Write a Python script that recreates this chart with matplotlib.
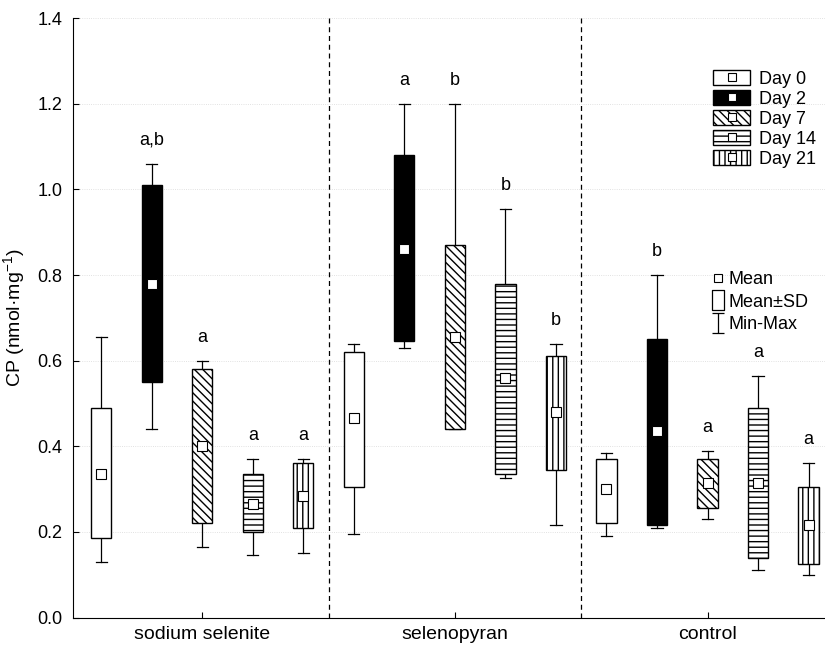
import numpy as np
import matplotlib.pyplot as plt
from matplotlib.patches import Patch
from matplotlib.lines import Line2D
from matplotlib.path import Path

plt.rcParams['font.family'] = ['Liberation Sans', 'DejaVu Sans']
plt.rcParams['hatch.linewidth'] = 1.0

groups = ['sodium selenite', 'selenopyran', 'control']
days = ['Day 0', 'Day 2', 'Day 7', 'Day 14', 'Day 21']

# rows: group, cols: day
mean = [[0.335, 0.78, 0.40, 0.265, 0.285],
        [0.465, 0.86, 0.655, 0.56, 0.48],
        [0.30, 0.435, 0.315, 0.315, 0.215]]
sd_hi = [[0.49, 1.01, 0.58, 0.335, 0.36],
         [0.62, 1.08, 0.87, 0.78, 0.61],
         [0.37, 0.65, 0.37, 0.49, 0.305]]
sd_lo = [[0.185, 0.55, 0.22, 0.20, 0.21],
         [0.305, 0.645, 0.44, 0.335, 0.345],
         [0.22, 0.215, 0.255, 0.14, 0.125]]
vmax = [[0.655, 1.06, 0.60, 0.37, 0.37],
        [0.64, 1.20, 1.20, 0.955, 0.64],
        [0.385, 0.80, 0.39, 0.565, 0.36]]
vmin = [[0.13, 0.44, 0.165, 0.145, 0.15],
        [0.195, 0.63, 0.44, 0.325, 0.215],
        [0.19, 0.21, 0.23, 0.11, 0.10]]
letters = [['', 'a,b', 'a', 'a', 'a'],
           ['', 'a', 'b', 'b', 'b'],
           ['', 'b', 'a', 'a', 'a']]

faces = ['white', 'black', 'white', 'white', 'white']
hatches = [None, None, '\\\\\\\\', '---', '|||']

fig = plt.figure(figsize=(8.25, 6.48), dpi=100)
ax = fig.add_axes([0.089, 0.047, 0.911, 0.925])

bw = 0.08
for g in range(3):
    for d in range(5):
        x = g + (d - 2) * 0.2
        lo, hi = sd_lo[g][d], sd_hi[g][d]
        ax.plot([x, x], [hi, vmax[g][d]], color='black', lw=0.9, zorder=2)
        ax.plot([x, x], [vmin[g][d], lo], color='black', lw=0.9, zorder=2)
        for v in (vmax[g][d], vmin[g][d]):
            ax.plot([x - 0.022, x + 0.022], [v, v], color='black', lw=0.9, zorder=2)
        ax.bar(x, hi - lo, bottom=lo, width=bw, color=faces[d], edgecolor='black',
               hatch=hatches[d], linewidth=1.0, zorder=3)
        ax.plot(x, mean[g][d], marker='s', ms=6.5, mfc='white', mec='black', mew=0.8, zorder=4)
        if letters[g][d]:
            ax.text(x, vmax[g][d] + 0.035, letters[g][d], ha='center', va='bottom', fontsize=13)

for xv in (0.5, 1.5):
    ax.axvline(xv, color='black', lw=0.9, ls=(0, (4, 3)))

ax.set_xlim(-0.51, 2.465)
ax.set_ylim(0, 1.4)
ax.set_yticks(np.arange(0, 1.41, 0.2))
ax.set_yticklabels(['%.1f' % v for v in np.arange(0, 1.41, 0.2)], fontsize=13)
ax.set_xticks(range(3))
ax.set_xticklabels(groups, fontsize=14)
ax.tick_params(axis='x', direction='in', length=4, pad=6)
ax.tick_params(axis='y', direction='in', length=4, pad=8)
ax.yaxis.grid(True, color='#d8d8d8', lw=0.6, ls=':')
ax.set_axisbelow(True)
ax.spines['right'].set_visible(False)
ax.spines['top'].set_visible(False)
ax.set_ylabel('CP (nmol·mg$^{\\mathregular{-1}}$)', fontsize=14)
ax.yaxis.set_label_coords(-0.06, 0.5)

handles = []
for d in range(5):
    p = Patch(facecolor=faces[d], edgecolor='black', hatch=hatches[d], lw=1.0)
    m = Line2D([], [], ls='', marker='s', ms=6, mfc='white', mec='black', mew=0.8)
    handles.append((p, m))
leg1 = ax.legend(handles, days, loc='upper left', bbox_to_anchor=(0.842, 0.925),
                 frameon=False, fontsize=13, handlelength=2.0, handleheight=0.9,
                 labelspacing=0.12, handletextpad=0.5, borderaxespad=0)
ax.add_artist(leg1)

rect = Path([(-0.6, -1), (0.6, -1), (0.6, 1), (-0.6, 1), (-0.6, -1)],
            [Path.MOVETO, Path.LINETO, Path.LINETO, Path.LINETO, Path.CLOSEPOLY])
ibar = Path([(-0.6, -1), (0.6, -1), (0, -1), (0, 1), (-0.6, 1), (0.6, 1)],
            [Path.MOVETO, Path.LINETO, Path.MOVETO, Path.LINETO, Path.MOVETO, Path.LINETO])
h2 = [Line2D([], [], ls='', marker='s', ms=6, mfc='white', mec='black', mew=0.8),
      Line2D([], [], ls='', marker=rect, ms=15, mfc='white', mec='black', mew=0.9),
      Line2D([], [], ls='', marker=ibar, ms=14, mfc='none', mec='black', mew=0.9)]
ax.legend(h2, ['Mean', 'Mean±SD', 'Min-Max'], loc='upper left', bbox_to_anchor=(0.838, 0.59),
          frameon=False, fontsize=13, handlelength=0.8, labelspacing=0.3,
          handletextpad=0.2, borderaxespad=0)

fig.savefig('out.png', dpi=100)
